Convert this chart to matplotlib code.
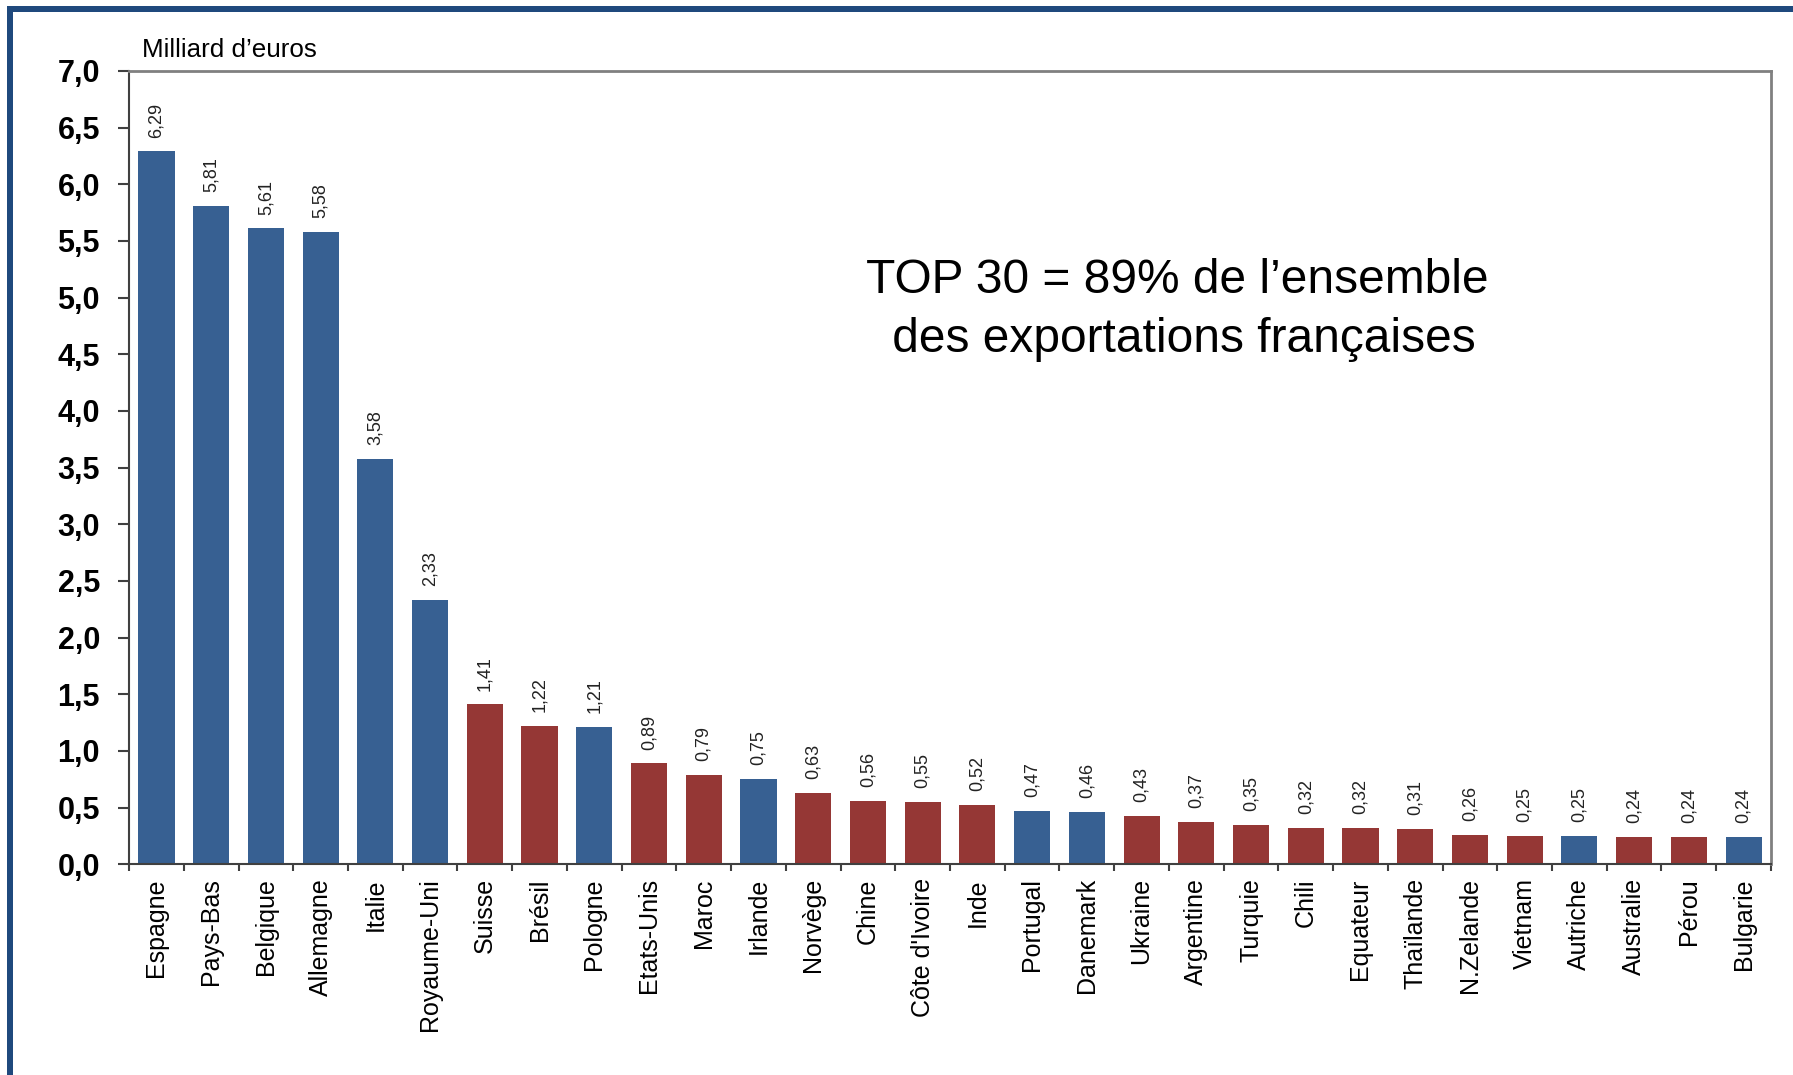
import numpy as np
import matplotlib
matplotlib.use('Agg')
import matplotlib.pyplot as plt
from matplotlib.patches import Rectangle

plt.rcParams['font.family'] = ['Liberation Sans', 'DejaVu Sans']

# Data
countries = ['Espagne', 'Pays-Bas', 'Belgique', 'Allemagne', 'Italie', 'Royaume-Uni',
             'Suisse', 'Brésil', 'Pologne', 'Etats-Unis', 'Maroc', 'Irlande',
             'Norvège', 'Chine', "Côte d'Ivoire", 'Inde', 'Portugal', 'Danemark',
             'Ukraine', 'Argentine', 'Turquie', 'Chili', 'Equateur', 'Thaïlande',
             'N.Zelande', 'Vietnam', 'Autriche', 'Australie', 'Pérou', 'Bulgarie']
values = [6.29, 5.81, 5.61, 5.58, 3.58, 2.33,
          1.41, 1.22, 1.21, 0.89, 0.79, 0.75,
          0.63, 0.56, 0.55, 0.52, 0.47, 0.46,
          0.43, 0.37, 0.35, 0.32, 0.32, 0.31,
          0.26, 0.25, 0.25, 0.24, 0.24, 0.24]
# 'EU' = European Union member, 'X' = outside
groups = ['EU', 'EU', 'EU', 'EU', 'EU', 'EU',
          'X', 'X', 'EU', 'X', 'X', 'EU',
          'X', 'X', 'X', 'X', 'EU', 'EU',
          'X', 'X', 'X', 'X', 'X', 'X',
          'X', 'X', 'EU', 'X', 'X', 'EU']
y_ticks = [0.0, 0.5, 1.0, 1.5, 2.0, 2.5, 3.0, 3.5, 4.0, 4.5, 5.0, 5.5, 6.0, 6.5, 7.0]

colors = {'EU': '#376092', 'X': '#953735'}
bar_colors = [colors[g] for g in groups]

fig = plt.figure(figsize=(17.93, 10.75), dpi=100)
ax = fig.add_axes([0.072, 0.196, 0.9157, 0.738])

x = np.arange(len(countries))
bars = ax.bar(x, values, width=0.66, color=bar_colors, zorder=2)

# value labels
for xi, v in zip(x, values):
    ax.annotate(f'{v:.2f}'.replace('.', ','), (xi, v), xytext=(0, 10),
                textcoords='offset points', rotation=90, ha='center', va='bottom',
                fontsize=13, color='#222222')

ax.set_xlim(-0.5, len(countries) - 0.5)
ax.set_ylim(0, 7)

ax.set_yticks(y_ticks)
ax.set_yticklabels([f'{t:.1f}'.replace('.', ',') for t in y_ticks],
                   fontsize=22, fontweight='bold')
ax.tick_params(axis='y', direction='out', length=8, width=1.5, color='#404040', pad=13)

ax.set_xticks(x)
ax.set_xticklabels(countries, rotation=90, fontsize=18)
ax.tick_params(axis='x', length=0, pad=10)
ax.set_xticks(np.arange(-0.5, len(countries), 1), minor=True)
ax.tick_params(axis='x', which='minor', direction='out', length=5, width=1.5, color='#404040')

for side in ['left', 'bottom']:
    ax.spines[side].set_color('#404040')
    ax.spines[side].set_linewidth(1.5)
for side in ['top', 'right']:
    ax.spines[side].set_color('#808080')
    ax.spines[side].set_linewidth(2)

fig.text(142 / 1793, 1 - 57 / 1075, 'Milliard d’euros', fontsize=18.7, va='baseline', ha='left')

fig.text(1177 / 1793, 1 - 310 / 1075, 'TOP 30 = 89% de l’ensemble\n des exportations françaises',
         fontsize=34.5, ha='center', va='center', multialignment='center', linespacing=1.4)

# blue frame (top and left)
fig.add_artist(Rectangle((7 / 1793, 1 - 12 / 1075), 1, 6 / 1075, transform=fig.transFigure,
                         color='#1F497D', lw=0))
fig.add_artist(Rectangle((7 / 1793, 0), 6 / 1793, 1 - 7 / 1075, transform=fig.transFigure,
                         color='#1F497D', lw=0))

fig.savefig('out.png', dpi=100)
